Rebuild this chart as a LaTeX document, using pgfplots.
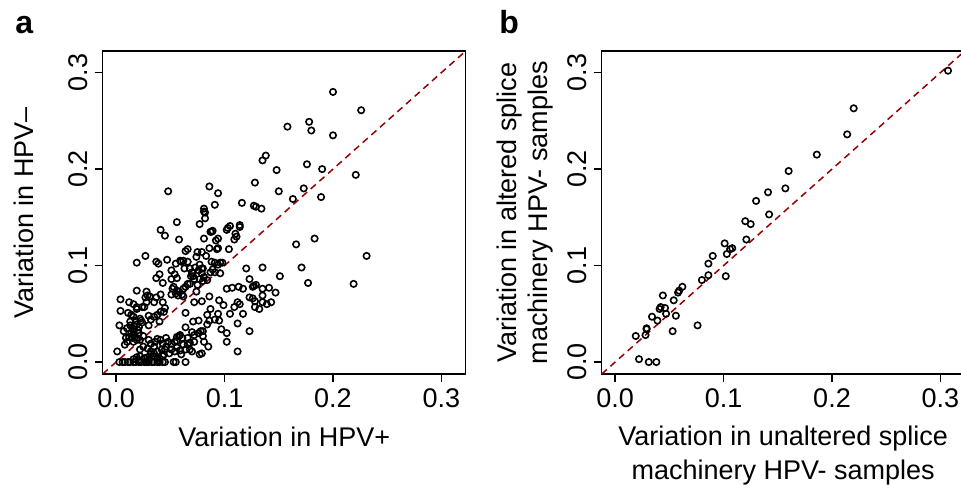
\documentclass[border=0pt]{standalone}
\usepackage{fontspec}
\setmainfont{Liberation Sans}
\usepackage{pgfplots}
\pgfplotsset{compat=1.18}
\definecolor{diagred}{RGB}{150,0,0}

\newcommand{\chartfont}{\fontsize{13.5}{15.5}\selectfont}

\pgfplotsset{
  varpanel/.style={
    scale only axis, width=181.5pt, height=161.5pt,
    anchor=south west,
    xmin=-0.0124, xmax=0.3224, ymin=-0.0124, ymax=0.3224,
    xtick={0,0.1,0.2,0.3}, ytick={0,0.1,0.2,0.3},
    scaled ticks=false,
    tick pos=left, tick align=outside,
    major tick length=4pt,
    axis line style={line width=0.75pt},
    every tick/.style={black, line width=0.75pt},
    tick label style={font=\chartfont,
      /pgf/number format/fixed, /pgf/number format/fixed zerofill,
      /pgf/number format/precision=1, /pgf/number format/assume math mode=true},
    yticklabel style={rotate=90, anchor=south},
    label style={font=\chartfont, inner sep=0pt},
  },
  pts/.style={only marks, mark=o, mark size=1.6pt,
    mark options={line width=0.8pt, draw=black}},
  diag/.style={diagred, line width=0.75pt, dash pattern=on 3.4pt off 2.4pt},
}

\begin{document}
\begin{tikzpicture}
% panel a
\begin{axis}[varpanel, at={(51.35pt,55pt)},
  xlabel={Variation in HPV+},
  ylabel={Variation in HPV\textendash},
  xlabel style={at={(axis description cs:0.5,-0.223)}, anchor=base},
  ylabel style={at={(axis description cs:-0.192,0.5)}, anchor=base},
]
\addplot[diag] coordinates {(-0.0124,-0.0124) (0.3224,0.3224)};
\addplot[pts] coordinates {
(0.200,0.280) (0.226,0.261) (0.158,0.244) (0.178,0.249) (0.180,0.240) (0.200,0.235)
(0.135,0.209) (0.138,0.214) (0.148,0.199) (0.176,0.205) (0.190,0.200) (0.221,0.194)
(0.128,0.186) (0.150,0.177) (0.173,0.180) (0.163,0.169) (0.189,0.171) (0.116,0.165)
(0.127,0.162) (0.129,0.161) (0.134,0.159) (0.048,0.177) (0.086,0.182) (0.094,0.175)
(0.091,0.163) (0.081,0.159) (0.081,0.156) (0.082,0.155) (0.082,0.149) (0.077,0.143)
(0.087,0.135) (0.088,0.135) (0.089,0.136) (0.056,0.145) (0.041,0.137) (0.045,0.131)
(0.058,0.127) (0.102,0.137) (0.103,0.139) (0.105,0.141) (0.114,0.142) (0.114,0.140)
(0.110,0.133) (0.111,0.130) (0.109,0.127) (0.081,0.128) (0.092,0.126) (0.094,0.128)
(0.094,0.118) (0.093,0.117) (0.104,0.117) (0.086,0.118) (0.166,0.122) (0.183,0.128)
(0.231,0.110) (0.171,0.098) (0.177,0.082) (0.219,0.081) (0.151,0.089) (0.135,0.098)
(0.120,0.097) (0.027,0.110) (0.019,0.103) (0.047,0.106) (0.037,0.104) (0.039,0.102)
(0.051,0.095) (0.064,0.115) (0.066,0.117) (0.075,0.114) (0.079,0.114) (0.074,0.109)
(0.083,0.110) (0.077,0.101) (0.073,0.098) (0.079,0.097) (0.080,0.097) (0.076,0.095)
(0.055,0.102) (0.059,0.105) (0.060,0.104) (0.062,0.105) (0.066,0.104) (0.088,0.104)
(0.091,0.103) (0.094,0.101) (0.096,0.103) (0.098,0.103) (0.096,0.092)
(0.054,0.091) (0.056,0.087) (0.051,0.086) (0.053,0.078) (0.052,0.076) (0.056,0.074)
(0.040,0.091) (0.037,0.087) (0.043,0.082) (0.041,0.070) (0.063,0.097) (0.068,0.097)
(0.070,0.093) (0.071,0.089) (0.069,0.089) (0.072,0.086) (0.068,0.081) (0.066,0.081)
(0.064,0.078) (0.062,0.076) (0.058,0.073) (0.057,0.069) (0.062,0.068) (0.061,0.070)
(0.055,0.071) (0.051,0.070) (0.077,0.086) (0.080,0.084) (0.075,0.080) (0.074,0.073)
(0.072,0.062) (0.079,0.092) (0.081,0.088) (0.084,0.085) (0.089,0.096) (0.087,0.093)
(0.091,0.093)
(0.102,0.076) (0.107,0.077) (0.113,0.078) (0.117,0.076) (0.123,0.086) (0.126,0.078)
(0.127,0.079) (0.129,0.080) (0.135,0.076) (0.141,0.077) (0.147,0.072) (0.135,0.069)
(0.123,0.067) (0.126,0.066) (0.128,0.063) (0.135,0.062) (0.139,0.060) (0.143,0.062)
(0.128,0.057) (0.132,0.055) (0.114,0.060) (0.112,0.062) (0.109,0.057) (0.105,0.050)
(0.117,0.050) (0.112,0.040) (0.123,0.032) (0.102,0.030) (0.102,0.021) (0.112,0.011)
(0.095,0.064) (0.099,0.059) (0.094,0.050) (0.086,0.068) (0.087,0.055) (0.079,0.063)
(0.064,0.051) (0.064,0.036) (0.084,0.049) (0.086,0.043) (0.091,0.044) (0.095,0.043)
(0.097,0.034) (0.084,0.039) (0.076,0.043) (0.071,0.042) (0.078,0.032) (0.080,0.032)
(0.081,0.021) (0.085,0.016) (0.079,0.009) (0.077,0.008) (0.064,0.000)
(0.004,0.065) (0.012,0.062) (0.016,0.060) (0.019,0.057) (0.019,0.055) (0.024,0.057)
(0.026,0.057) (0.004,0.053) (0.011,0.051) (0.014,0.049) (0.016,0.047) (0.013,0.042)
(0.023,0.043) (0.024,0.041) (0.019,0.039) (0.030,0.038) (0.030,0.048) (0.003,0.038)
(0.007,0.032) (0.010,0.035) (0.015,0.035) (0.016,0.032) (0.020,0.033) (0.016,0.028)
(0.015,0.025) (0.019,0.025) (0.010,0.021) (0.008,0.018) (0.016,0.021) (0.019,0.023)
(0.022,0.023) (0.001,0.011) (0.028,0.062) (0.027,0.067) (0.029,0.069) (0.019,0.074)
(0.028,0.073) (0.031,0.068) (0.035,0.062) (0.037,0.067) (0.043,0.062) (0.045,0.056)
(0.038,0.049) (0.041,0.052) (0.044,0.052) (0.035,0.047) (0.040,0.042) (0.032,0.044)
(0.013,0.038) (0.017,0.037) (0.021,0.036) (0.018,0.043) (0.022,0.045) (0.014,0.030)
(0.012,0.026) (0.021,0.030) (0.025,0.027) (0.009,0.025)
(0.003,0) (0.006,0) (0.008,0) (0.011,0) (0.013,0) (0.016,0) (0.018,0) (0.021,0)
(0.023,0) (0.026,0) (0.028,0) (0.030,0) (0.033,0) (0.035,0) (0.038,0) (0.040,0)
(0.043,0) (0.045,0) (0.053,0) (0.055,0)
(0.016,0.003) (0.019,0.005) (0.022,0.006) (0.026,0.004) (0.029,0.005) (0.032,0.008)
(0.035,0.006) (0.038,0.004) (0.043,0.006) (0.044,0.008) (0.021,0.002) (0.030,0.002)
(0.039,0.002)
(0.032,0.019) (0.035,0.016) (0.038,0.024) (0.041,0.023) (0.046,0.025) (0.048,0.021)
(0.051,0.019) (0.054,0.021) (0.056,0.026) (0.058,0.027) (0.061,0.025) (0.056,0.015)
(0.059,0.012) (0.064,0.013) (0.068,0.013) (0.070,0.011) (0.068,0.020) (0.072,0.021)
(0.062,0.018) (0.066,0.018) (0.032,0.011) (0.035,0.009) (0.038,0.011) (0.042,0.013)
(0.045,0.013) (0.049,0.009) (0.029,0.014) (0.022,0.013) (0.025,0.016) (0.030,0.023)
(0.036,0.021) (0.043,0.019) (0.046,0.016) (0.051,0.013) (0.054,0.011) (0.060,0.008)
(0.066,0.025) (0.072,0.028) (0.076,0.030) (0.080,0.027) (0.070,0.031) (0.059,0.028)
(0.056,0.022)
};
\end{axis}

% panel b
\begin{axis}[varpanel, at={(300.85pt,55pt)},
  xlabel={Variation in unaltered splice\\machinery HPV- samples},
  ylabel={Variation in altered splice\\machinery HPV- samples},
  xlabel style={at={(axis description cs:0.5,-0.1585)}, anchor=north, align=center,
    font=\fontsize{13.5}{17}\selectfont},
  ylabel style={at={(axis description cs:-0.132,0.5)}, anchor=south, align=center},
]
\addplot[diag] coordinates {(-0.0124,-0.0124) (0.3224,0.3224)};
\addplot[pts] coordinates {
(0.307,0.302) (0.220,0.263) (0.214,0.236) (0.186,0.215) (0.160,0.198) (0.157,0.180)
(0.141,0.176) (0.142,0.153) (0.130,0.167) (0.120,0.146) (0.125,0.143) (0.121,0.127)
(0.101,0.123) (0.103,0.112) (0.106,0.117) (0.108,0.118) (0.102,0.089) (0.090,0.110)
(0.086,0.102) (0.086,0.090) (0.080,0.085) (0.076,0.038) (0.062,0.078) (0.059,0.074)
(0.058,0.072) (0.054,0.064) (0.044,0.069) (0.042,0.057) (0.041,0.055) (0.046,0.056)
(0.047,0.050) (0.056,0.048) (0.034,0.047) (0.039,0.043) (0.053,0.032) (0.029,0.035)
(0.029,0.034) (0.028,0.028) (0.019,0.027) (0.022,0.003) (0.031,0.000) (0.038,0.000)
};
\end{axis}

\node[font=\fontsize{16}{18}\selectfont\bfseries, anchor=base west, inner sep=0pt] at (7.5pt,225.5pt) {a};
\node[font=\fontsize{16}{18}\selectfont\bfseries, anchor=base west, inner sep=0pt] at (249.5pt,225.5pt) {b};

\pgfresetboundingbox
\path[use as bounding box] (0,0) rectangle (480.5pt,242pt);
\end{tikzpicture}
\end{document}
